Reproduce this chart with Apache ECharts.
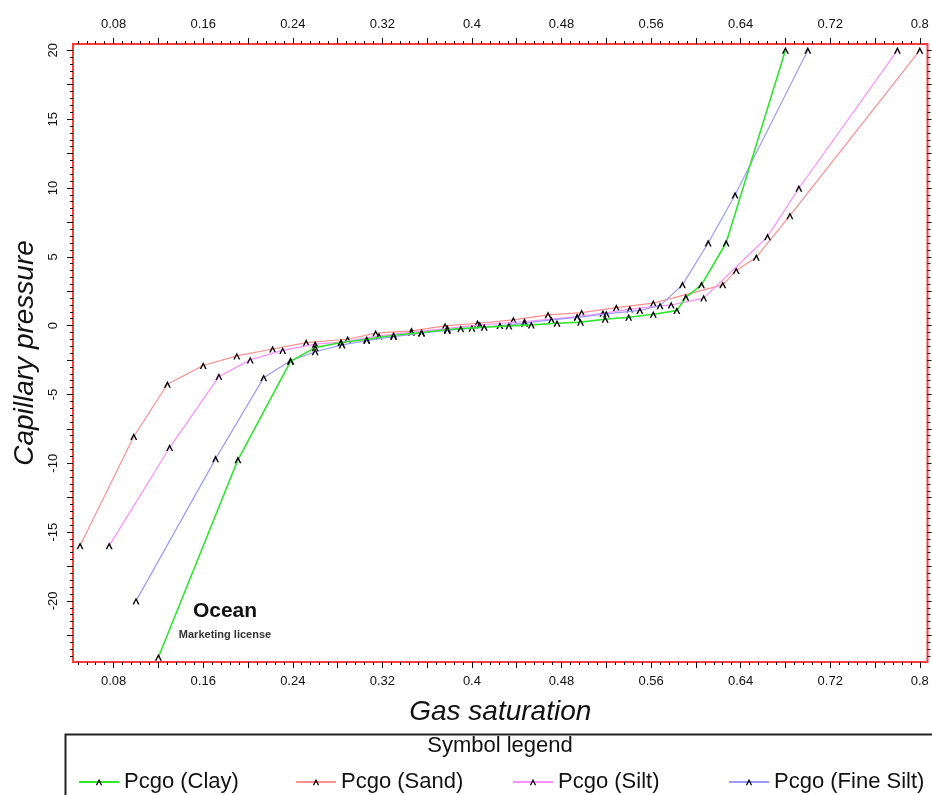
<!DOCTYPE html>
<html>
<head>
<meta charset="utf-8">
<script src="https://cdn.jsdelivr.net/npm/echarts@6/dist/echarts.min.js"></script>
<style>
  html, body { margin: 0; padding: 0; background: #fff; }
  #chart { width: 932px; height: 795px; }
</style>
</head>
<body>
<div id="chart"></div>
<script>
// capillary pressure curves, [gas saturation, Pc]
var clay = [[0.12,-24.1],[0.191,-9.75],[0.238,-2.6],[0.26,-1.6],[0.283,-1.23],[0.306,-0.99],[0.33,-0.7],
  [0.355,-0.5],[0.378,-0.28],[0.39,-0.22],[0.411,-0.12],[0.433,-0.02],[0.453,0.05],[0.476,0.17],[0.497,0.25],
  [0.519,0.46],[0.54,0.61],[0.562,0.83],[0.583,1.09],[0.591,2.06],[0.605,2.96],[0.627,6.0],[0.68,20]];
var sand = [[0.05,-16],[0.098,-8.06],[0.128,-4.26],[0.16,-2.9],[0.19,-2.2],[0.222,-1.7],[0.252,-1.23],
  [0.289,-0.99],[0.314,-0.55],[0.346,-0.38],[0.376,-0.02],[0.405,0.17],[0.437,0.41],[0.468,0.78],[0.498,0.94],
  [0.529,1.31],[0.562,1.63],[0.624,2.96],[0.636,4.0],[0.654,4.97],[0.684,7.99],[0.8,20]];
var silt = [[0.076,-16],[0.13,-8.86],[0.174,-3.7],[0.202,-2.49],[0.231,-1.8],[0.26,-1.35],[0.283,-1.2],
  [0.317,-0.75],[0.346,-0.48],[0.378,-0.2],[0.407,0.05],[0.447,0.3],[0.494,0.65],[0.517,0.9],[0.541,1.2],
  [0.578,1.5],[0.607,2.0],[0.664,6.46],[0.692,9.98],[0.78,20]];
var fineSilt = [[0.1,-20],[0.171,-9.68],[0.214,-3.78],[0.238,-2.54],[0.26,-1.9],[0.284,-1.4],[0.306,-1.09],
  [0.33,-0.8],[0.355,-0.55],[0.378,-0.35],[0.4,-0.19],[0.425,0.0],[0.447,0.18],[0.471,0.41],[0.494,0.6],
  [0.52,0.85],[0.55,1.1],[0.568,1.45],[0.588,2.96],[0.611,6.0],[0.635,9.49],[0.7,20]];

var seriesNames = ['Pcgo (Clay)', 'Pcgo (Sand)', 'Pcgo (Silt)', 'Pcgo (Fine Silt)'];
var xLabels = [0.08, 0.16, 0.24, 0.32, 0.4, 0.48, 0.56, 0.64, 0.72, 0.8];
var yLabels = [-20, -15, -10, -5, 0, 5, 10, 15, 20];

var XMIN = 0.0437, XMAX = 0.8069, YMIN = -24.44, YMAX = 20.46;
var FONT = 'Liberation Sans, Arial, sans-serif';

function steps(from, to, step) {
  var out = [];
  for (var i = Math.ceil(from / step - 1e-9); i * step <= to + 1e-9; i++) {
    out.push(Math.round(i * step * 1000) / 1000);
  }
  return out;
}
var xMed = steps(XMIN, XMAX, 0.04), xMinor = steps(XMIN, XMAX, 0.008);
var yMed = steps(YMIN, YMAX, 2.5), yMinor = steps(YMIN, YMAX, 0.5);

function tickAxis(type, pos, ticks, len, labels, extra) {
  var ax = {
    type: 'value', position: pos,
    min: type == 'x' ? XMIN : YMIN, max: type == 'x' ? XMAX : YMAX,
    axisLine: { show: false, onZero: false },
    splitLine: { show: false },
    axisTick: { show: true, inside: false, length: len, customValues: ticks, lineStyle: { color: '#111', width: 1 } },
    axisLabel: { show: false }
  };
  if (labels) {
    ax.axisLabel = {
      show: true, customValues: labels, fontFamily: FONT, fontSize: 13, color: '#111',
      margin: 13, rotate: type == 'x' ? 0 : 90,
      formatter: function (v) { return String(+(+v).toFixed(2)); }
    };
  }
  return Object.assign(ax, extra || {});
}

var mk = 'path://M0,10 L5,0 L10,10 L7.8,10 L5,4.2 L2.2,10 Z';
function line(name, data, color, width, z) {
  return {
    type: 'line', name: name, data: data, xAxisIndex: 0, yAxisIndex: 0,
    symbol: mk, symbolSize: [7, 7], showSymbol: true, z: z,
    itemStyle: { color: '#000' },
    lineStyle: { color: color, width: width },
    emphasis: { disabled: true },
    animation: false
  };
}

function legendAt(name, left) {
  return {
    data: [name], left: left, top: 766, itemWidth: 40, itemHeight: 8, itemGap: 0,
    textStyle: { fontFamily: FONT, fontSize: 22, color: '#111' }
  };
}

var chart = echarts.init(document.getElementById('chart'));
chart.setOption({
  backgroundColor: '#fff',
  animation: false,
  grid: { left: 73, right: 4.5, top: 44, bottom: 133, show: true, borderColor: '#ff3b3b', borderWidth: 2, backgroundColor: '#fff' },
  xAxis: [
    tickAxis('x', 'bottom', xMed, 6, xLabels, {
      name: 'Gas saturation', nameLocation: 'middle', nameGap: 36,
      nameTextStyle: { fontFamily: FONT, fontStyle: 'italic', fontSize: 28, color: '#111' }
    }),
    tickAxis('x', 'top', xMed, 6, xLabels),
    tickAxis('x', 'bottom', xMinor, 3),
    tickAxis('x', 'top', xMinor, 3)
  ],
  yAxis: [
    tickAxis('y', 'left', yMed, 6, yLabels, {
      name: 'Capillary pressure', nameLocation: 'middle', nameGap: 32,
      nameTextStyle: { fontFamily: FONT, fontStyle: 'italic', fontSize: 28, color: '#111' }
    }),
    tickAxis('y', 'right', yMed, 4),
    tickAxis('y', 'left', yMinor, 3),
    tickAxis('y', 'right', yMinor, 3)
  ],
  legend: [
    legendAt(seriesNames[0], 73),
    legendAt(seriesNames[1], 290),
    legendAt(seriesNames[2], 507),
    legendAt(seriesNames[3], 723)
  ],
  graphic: [
    { type: 'rect', left: 63, top: 732, shape: { width: 900, height: 100 },
      style: { fill: 'none', stroke: '#222', lineWidth: 2 }, z: -1 },
    { type: 'text', x: 500, y: 746, style: { text: 'Symbol legend', font: '22px ' + FONT, fill: '#111', align: 'center', verticalAlign: 'middle' } },
    { type: 'text', x: 225, y: 611, style: { text: 'Ocean', font: 'bold 21px ' + FONT, fill: '#111', align: 'center', verticalAlign: 'middle' } },
    { type: 'text', x: 225, y: 635, style: { text: 'Marketing license', font: 'bold 11px ' + FONT, fill: '#333', align: 'center', verticalAlign: 'middle' } }
  ],
  series: [
    line(seriesNames[1], sand, '#ff8f8f', 1.2, 2),
    line(seriesNames[2], silt, '#ff8fff', 1.2, 3),
    line(seriesNames[3], fineSilt, '#9a9aff', 1.2, 4),
    line(seriesNames[0], clay, '#2ee62e', 1.6, 5)
  ]
});
</script>
</body>
</html>
